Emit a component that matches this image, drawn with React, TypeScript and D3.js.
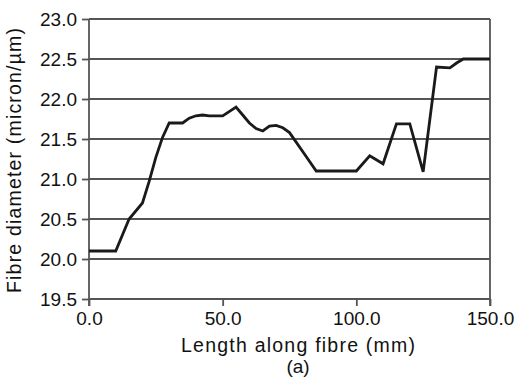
import React, { useEffect, useRef } from 'react';
import * as d3 from 'd3';

// fibre length (mm) and measured diameter (micron)
const lengths = [0, 10, 15, 20, 22.5, 25, 27.5, 30, 35, 37.5, 40, 42.5, 45, 50, 55, 57.5, 60, 62.5, 65, 67.5, 70, 72.5, 75, 80, 85, 100, 105, 110, 115, 120, 125, 130, 135, 137.5, 140, 150];
const diameters = [20.1, 20.1, 20.5, 20.7, 20.97, 21.27, 21.52, 21.7, 21.7, 21.76, 21.79, 21.8, 21.79, 21.79, 21.9, 21.8, 21.7, 21.63, 21.6, 21.66, 21.67, 21.64, 21.58, 21.34, 21.1, 21.1, 21.29, 21.19, 21.69, 21.69, 21.09, 22.4, 22.39, 22.45, 22.5, 22.5];

const xTicks = [0, 50, 100, 150];
const yTicks = [19.5, 20.0, 20.5, 21.0, 21.5, 22.0, 22.5, 23.0];

const W = 523;
const H = 384;

const App = () => {
  const svgRef = useRef<SVGSVGElement>(null);

  useEffect(() => {
    if (!svgRef.current) return;
    const svg = d3.select(svgRef.current);
    svg.selectAll('*').remove();

    const margin = { top: 19, right: 33, bottom: 85, left: 89 };
    const innerW = W - margin.left - margin.right;
    const innerH = H - margin.top - margin.bottom;
    const font = '"Liberation Sans", Arial, sans-serif';
    const grey = '#555';

    const x = d3.scaleLinear().domain([0, 150]).range([0, innerW]);
    const y = d3.scaleLinear().domain([19.5, 23.0]).range([innerH, 0]);

    const g = svg.append('g').attr('transform', `translate(${margin.left},${margin.top})`);

    // horizontal gridlines
    g.selectAll('.grid')
      .data(yTicks)
      .join('line')
      .attr('x1', 0)
      .attr('x2', innerW)
      .attr('y1', d => y(d))
      .attr('y2', d => y(d))
      .attr('stroke', grey)
      .attr('stroke-width', 1.8);

    // right border
    g.append('line')
      .attr('x1', innerW).attr('x2', innerW)
      .attr('y1', 0).attr('y2', innerH + 7)
      .attr('stroke', grey).attr('stroke-width', 1.8);

    const yAxis = g.append('g')
      .call(d3.axisLeft(y).tickValues(yTicks).tickFormat(d3.format('.1f')).tickSize(7).tickPadding(5));
    yAxis.select('.domain').remove();
    yAxis.append('line')
      .attr('x1', 0).attr('x2', 0).attr('y1', 0).attr('y2', innerH + 7)
      .attr('stroke', grey).attr('stroke-width', 1.8);
    yAxis.selectAll('.tick line').attr('stroke', grey).attr('stroke-width', 1.8);
    yAxis.selectAll('.tick text')
      .attr('font-family', font).attr('font-size', 19).attr('fill', '#111');

    const xAxis = g.append('g')
      .attr('transform', `translate(0,${innerH})`)
      .call(d3.axisBottom(x).tickValues(xTicks).tickFormat(d3.format('.1f')).tickSize(7).tickPadding(6));
    xAxis.select('.domain').remove();
    xAxis.selectAll('.tick line').attr('stroke', grey).attr('stroke-width', 1.8);
    xAxis.selectAll('.tick text')
      .attr('font-family', font).attr('font-size', 19).attr('fill', '#111');

    const pts = lengths.map((l, i) => [l, diameters[i]] as [number, number]);
    const line = d3.line<[number, number]>()
      .x(d => x(d[0]))
      .y(d => y(d[1]));

    g.append('path')
      .datum(pts)
      .attr('fill', 'none')
      .attr('stroke', '#1a1a1a')
      .attr('stroke-width', 2.8)
      .attr('stroke-linejoin', 'miter')
      .attr('d', line);

    // axis titles
    svg.append('text')
      .attr('x', 298)
      .attr('y', 352)
      .attr('text-anchor', 'middle')
      .attr('font-family', font)
      .attr('font-size', 19.5)
      .attr('fill', '#111')
      .attr('textLength', 234)
      .attr('lengthAdjust', 'spacing')
      .text('Length along fibre (mm)');

    svg.append('text')
      .attr('x', 298)
      .attr('y', 373)
      .attr('text-anchor', 'middle')
      .attr('font-family', font)
      .attr('font-size', 19)
      .attr('fill', '#111')
      .text('(a)');

    svg.append('text')
      .attr('transform', `translate(21,${160.5}) rotate(-90)`)
      .attr('text-anchor', 'middle')
      .attr('font-family', font)
      .attr('font-size', 19.5)
      .attr('fill', '#111')
      .attr('textLength', 265)
      .attr('lengthAdjust', 'spacing')
      .text('Fibre diameter (micron/µm)');
  }, []);

  return (
    <svg
      ref={svgRef}
      width={W}
      height={H}
      style={{ position: 'fixed', left: 0, top: 0, background: '#fff' }}
    />
  );
};

export default App;
